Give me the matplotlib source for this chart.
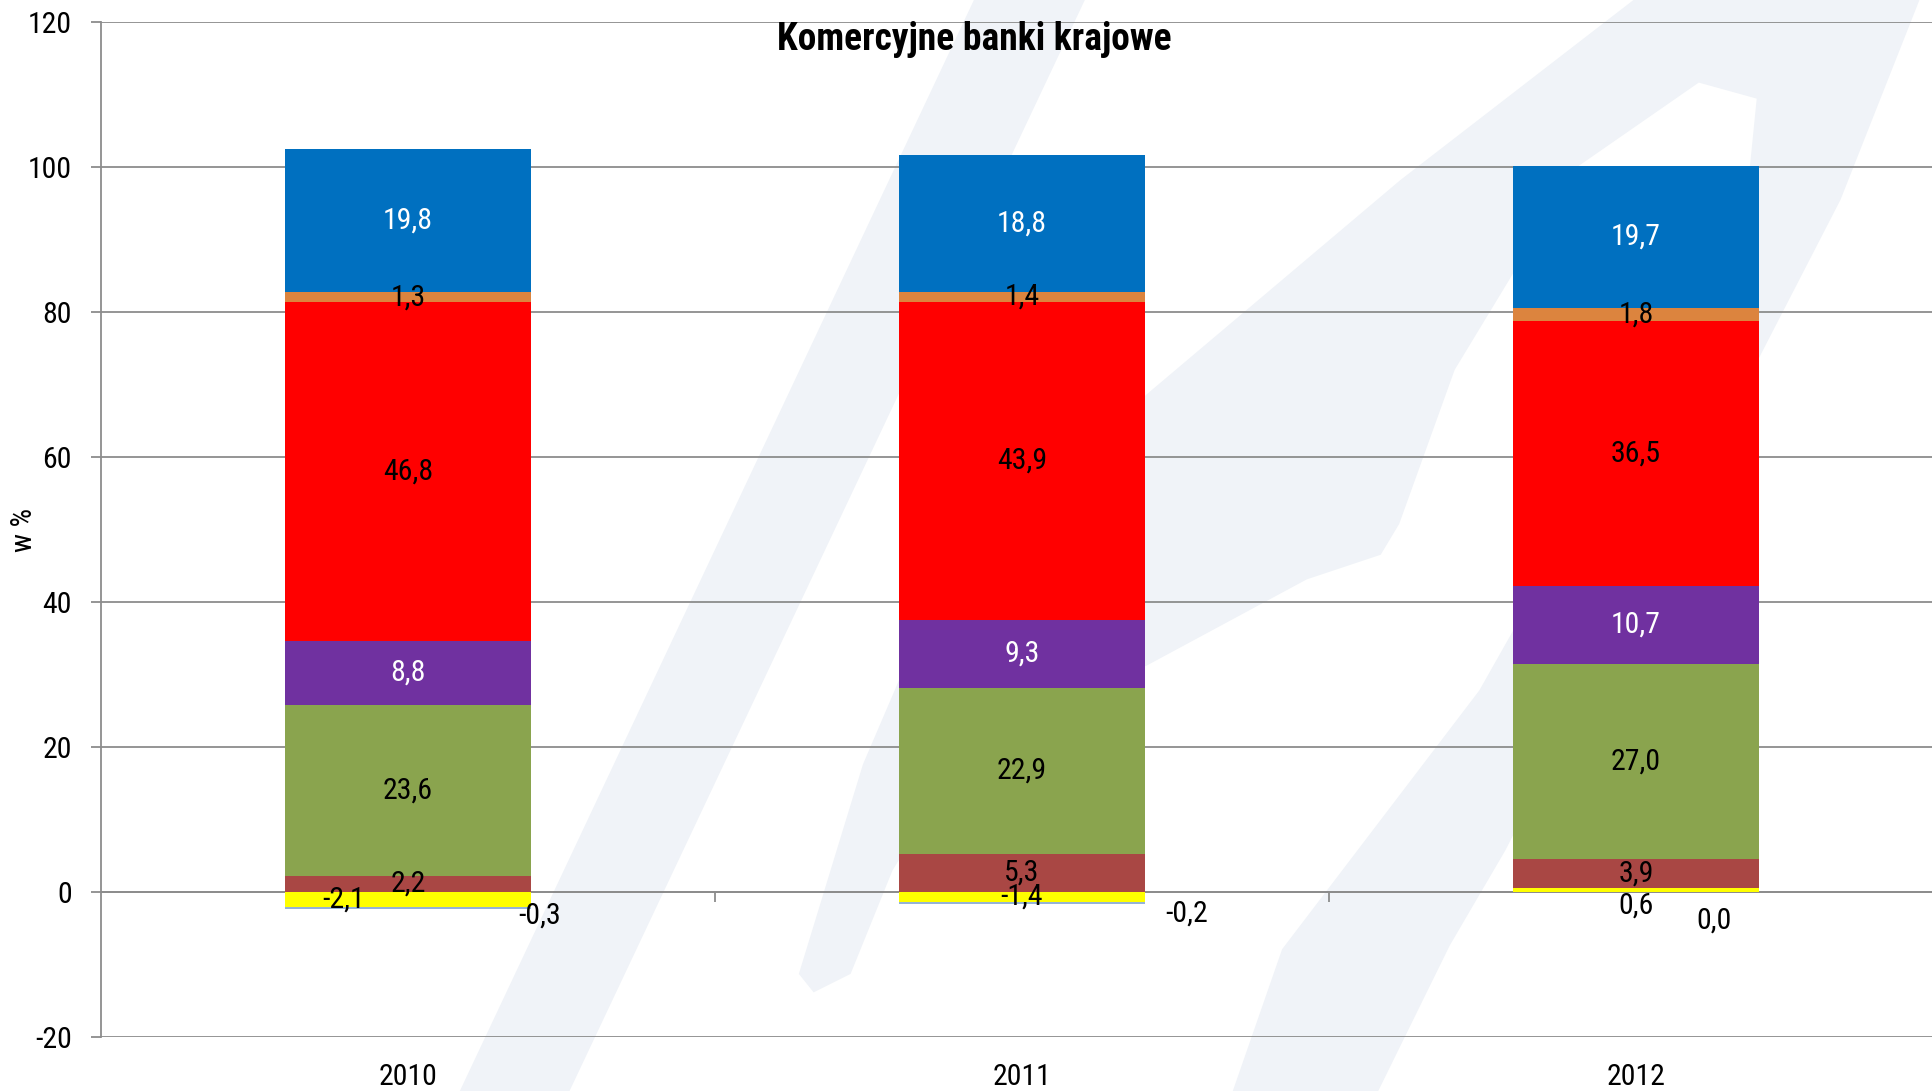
import numpy as np
import matplotlib
matplotlib.use("Agg")
import matplotlib.pyplot as plt
from matplotlib import font_manager

# czcionka waska jak Arial Narrow, jesli jest
dostepne = {f.name for f in font_manager.fontManager.ttflist}
rodzina = 'Liberation Sans'
for n in ['Liberation Sans Narrow', 'Arial Narrow', 'Roboto Condensed', 'Open Sans Condensed']:
    if n in dostepne:
        rodzina = n
        break
plt.rcParams['font.family'] = [rodzina, 'DejaVu Sans']
plt.rcParams['axes.unicode_minus'] = False

# dane
lata = ['2010', '2011', '2012']
zolty = [-2.1, -1.4, 0.6]
jasnoniebieski = [-0.3, -0.2, 0.0]
brazowy = [2.2, 5.3, 3.9]
zielony = [23.6, 22.9, 27.0]
fioletowy = [8.8, 9.3, 10.7]
czerwony = [46.8, 43.9, 36.5]
pomaranczowy = [1.3, 1.4, 1.8]
niebieski = [19.8, 18.8, 19.7]

serie = [zolty, jasnoniebieski, brazowy, zielony, fioletowy, czerwony, pomaranczowy, niebieski]
kolory = ['#ffff00', '#95b3d7', '#a94744', '#8aa44e', '#7031a0', '#ff0000', '#dc843e', '#0070c0']
kolory_tekstu = ['black', 'black', 'black', 'black', 'white', 'black', 'black', 'white']

# przesuniecia etykiet w pikselach (dx, dy w dol)
przes = {
    (0, 0): (-64, 0), (0, 2): (0, 16),
    (1, 0): (132, 7), (1, 1): (165, 11), (1, 2): (78, 33),
}

fig = plt.figure(figsize=(19.33, 10.91), dpi=100)

# znak wodny w tle (wspolrzedne w pikselach obrazka 1568x885)
tlo = fig.add_axes([0, 0, 1, 1], zorder=-1)
tlo.set_xlim(0, 1568)
tlo.set_ylim(885, 0)
tlo.axis('off')
wm = '#f0f3f8'
ksztalty = [
    [(373, 885), (462, 885), (880, 0), (790, 0)],
    [(1325, 0), (1557, 0), (1493, 162), (1221, 690), (1176, 767), (1118, 885),
     (1000, 885), (1040, 770), (1200, 560), (1330, 330), (1418, 150), (1425, 80),
     (1378, 67), (1280, 135), (1180, 300), (1135, 425), (1120, 450), (1060, 470),
     (930, 540), (790, 600), (724, 706), (690, 790), (660, 805), (648, 790),
     (700, 620), (760, 480), (930, 320), (1136, 146)],
]
for k in ksztalty:
    tlo.fill([p[0] for p in k], [p[1] for p in k], color=wm, lw=0)

ax = fig.add_axes([101 / 1933, 54 / 1091, 1842 / 1933, 1015 / 1091])
ax.set_facecolor('none')

x = np.arange(len(lata))
dodatnie = np.zeros(len(lata))
ujemne = np.zeros(len(lata))
for i, (s, c) in enumerate(zip(serie, kolory)):
    v = np.array(s)
    dol = np.where(v >= 0, dodatnie, ujemne)
    ax.bar(x, v, 0.4, bottom=dol, color=c, zorder=3)
    for j in range(len(lata)):
        srodek = dol[j] + v[j] / 2
        dx, dy = przes.get((i, j), (0, 0))
        ax.annotate(f"{v[j]:.1f}".replace('.', ','), (x[j], srodek),
                    xytext=(dx / 1.389, -dy / 1.389), textcoords='offset points',
                    ha='center', va='center', fontsize=21.5,
                    color=kolory_tekstu[i], zorder=5)
    dodatnie = dodatnie + np.where(v >= 0, v, 0)
    ujemne = ujemne + np.where(v < 0, v, 0)

ax.set_xlim(-0.5, 2.5)
ax.set_ylim(-20, 120)
ax.set_yticks(range(-20, 121, 20))
ax.yaxis.grid(True, color='#8c8c8c', linewidth=1.3, zorder=1)
ax.set_axisbelow(True)
for s in ['top', 'right']:
    ax.spines[s].set_visible(False)
ax.spines['left'].set_color('#8c8c8c')
ax.spines['left'].set_linewidth(1.3)
ax.spines['bottom'].set_position(('data', 0))
ax.spines['bottom'].set_color('#8c8c8c')
ax.spines['bottom'].set_linewidth(1.3)
ax.spines['bottom'].set_zorder(2)
ax.tick_params(axis='y', length=7, width=1.3, color='#8c8c8c', pad=14, labelsize=21.5)
ax.set_xticks([0.5, 1.5])
ax.set_xticklabels([])
ax.tick_params(axis='x', length=7, width=1.3, color='#8c8c8c', direction='out')

sec = ax.secondary_xaxis(0.0)
sec.set_xticks(x)
sec.set_xticklabels(lata)
sec.tick_params(length=0, pad=19, labelsize=21.5)
sec.spines['bottom'].set_visible(False)

fig.text(974 / 1933, 1 - 40 / 1091, 'Komercyjne banki krajowe', ha='center', va='center',
         fontsize=27, fontweight='bold')
fig.text(24 / 1933, 0.514, 'w %', rotation=90, ha='center', va='center', fontsize=21)

fig.savefig('out.png', dpi=100)
